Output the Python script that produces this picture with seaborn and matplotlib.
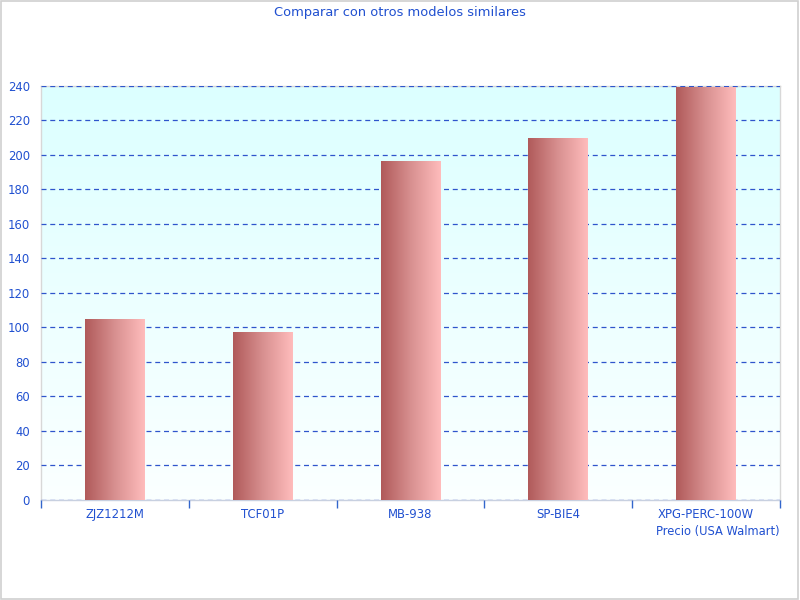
import numpy as np
import pandas as pd
import matplotlib
matplotlib.use("Agg")
import matplotlib.pyplot as plt
from matplotlib.colors import LinearSegmentedColormap
from matplotlib.patches import Rectangle
import seaborn as sns

models = ["ZJZ1212M", "TCF01P", "MB-938", "SP-BIE4", "XPG-PERC-100W"]
prices = [105, 97.5, 196.5, 210, 239.5]
yticks = list(range(0, 241, 20))

title = "Comparar con otros modelos similares"
xlabel = "Precio (USA Walmart)"
text_color = "#2050d0"

sns.set_theme(style="white")
plt.rcParams['font.family'] = ['DejaVu Sans']

fig = plt.figure(figsize=(8, 6), dpi=100)
ax = fig.add_axes([0.0512, 0.1667, 0.9238, 0.69])

df = pd.DataFrame({"model": models, "price": prices})
sns.barplot(data=df, x="model", y="price", ax=ax, width=0.405, color="#d08888",
            edgecolor="none", zorder=3)

ax.set_ylim(0, 240)
ax.set_xlim(-0.5, len(models) - 0.5)

# background gradient
bg = LinearSegmentedColormap.from_list("bg", ["#fbffff", "#dcffff"])
grad = np.linspace(0, 1, 256).reshape(-1, 1)
ax.imshow(grad, cmap=bg, aspect="auto", extent=[-0.5, len(models) - 0.5, 0, 240],
          origin="lower", zorder=0)

# bar gradients
barcmap = LinearSegmentedColormap.from_list("bar", ["#b05a5a", "#d89090", "#ffbcbc"])
hgrad = np.linspace(0, 1, 256).reshape(1, -1)
for p in list(ax.patches):
    x0, y0 = p.get_x(), p.get_y()
    w, h = p.get_width(), p.get_height()
    im = ax.imshow(hgrad, cmap=barcmap, aspect="auto",
                   extent=[x0, x0 + w, y0, y0 + h], zorder=4)
    im.set_clip_path(p)
ax.set_xlim(-0.5, len(models) - 0.5)
ax.set_ylim(0, 240)

ax.set_yticks(yticks)
ax.set_yticklabels([str(t) for t in yticks], color=text_color, fontsize=8.4)
ax.yaxis.grid(True, linestyle=(0, (4, 3)), color="#2f55cc", linewidth=0.9, zorder=1)
ax.set_axisbelow(False)
for line in ax.get_ygridlines():
    line.set_zorder(2)
ax.tick_params(axis="y", length=0, pad=8)

ax.set_xticks(np.arange(len(models)))
ax.set_xticklabels(models, color=text_color, fontsize=8.4)
ax.tick_params(axis="x", which="major", length=0, pad=5.5)
ax.set_xticks(np.arange(len(models) + 1) - 0.5, minor=True)
ax.tick_params(axis="x", which="minor", bottom=True, length=6, color="#3366cc",
               width=1, direction="out")

ax.set_xlabel("")
ax.set_ylabel("")
for s in ["top", "right", "left", "bottom"]:
    ax.spines[s].set_color("#d8d8d8")
    ax.spines[s].set_linewidth(1)
ax.spines["bottom"].set_color("#c8d0e0")

fig.text(0.5, 0.979, title, ha="center", va="center", color=text_color, fontsize=9.4)
fig.text(0.974, 0.115, xlabel, ha="right", va="center", color=text_color, fontsize=8.3)

fig.add_artist(Rectangle((0.001, 0.002), 0.997, 0.996, transform=fig.transFigure,
                         fill=False, edgecolor="#d0d0d0", linewidth=1.2))

fig.savefig("out.png", dpi=100)
